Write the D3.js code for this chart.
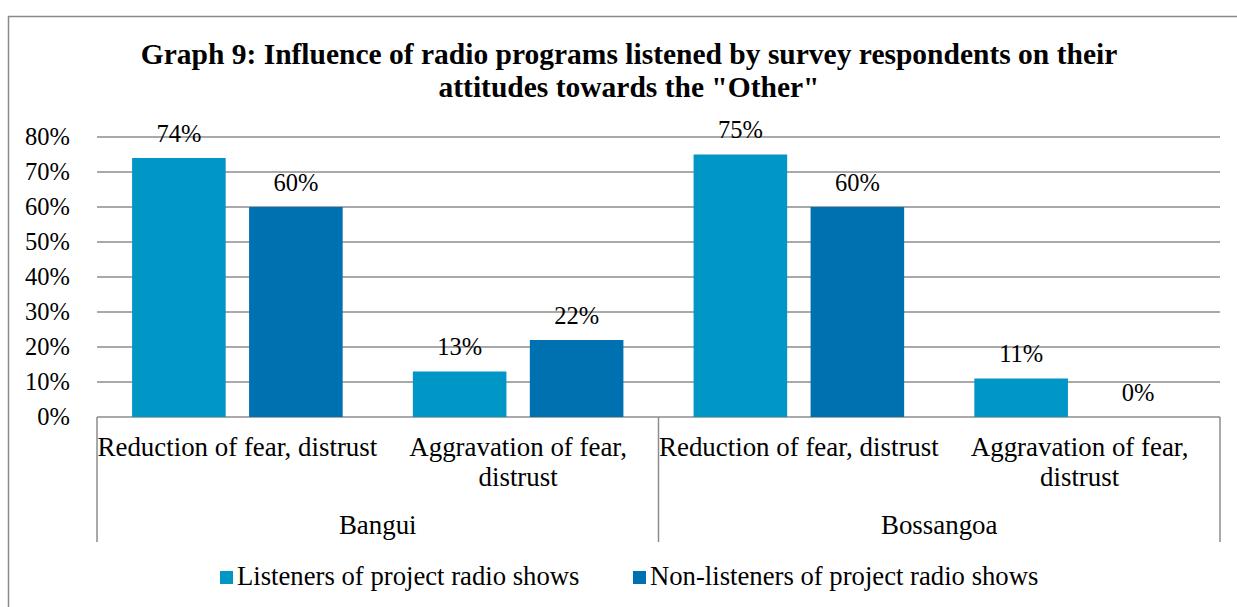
<!DOCTYPE html>
<html><head><meta charset="utf-8">
<script src="https://cdn.jsdelivr.net/npm/d3@7"></script>
</head>
<body style="margin:0;background:#fff;"><svg id="c" width="1237" height="607" font-family="Liberation Serif" style="font-family:'Liberation Serif'"></svg>
<script>
const title = ["Graph 9: Influence of radio programs listened by survey respondents on their", "attitudes towards the \"Other\""];
const groups = ["Bangui", "Bossangoa"];
const categories = ["Reduction of fear, distrust", "Aggravation of fear, distrust"];
const categoryLines = [["Reduction of fear, distrust"], ["Aggravation of fear,", "distrust"]];
const series = ["Listeners of project radio shows", "Non-listeners of project radio shows"];
const listeners = [74, 13, 75, 11];
const nonListeners = [60, 22, 60, 0];
const yTicks = [0, 10, 20, 30, 40, 50, 60, 70, 80];
const colors = ["#0096C6", "#0071B0"];

const FONT = "Liberation Serif";
const svg = d3.select("#c");
const W = 1237, H = 607;
const pLeft = 97, pRight = 1220, pTop = 137, pBottom = 417;

function txt(sel, size, weight) {
  return sel.attr("font-family", FONT).style("font-family", "'" + FONT + "'")
    .attr("font-size", size).style("font-size", size + "px")
    .attr("font-weight", weight || "normal").attr("fill", "#000");
}

// outer border
svg.append("path").attr("d", `M8.5,${H} V16.5 H${W}`).attr("fill", "none").attr("stroke", "#8a8a8a").attr("stroke-width", 1.5);

// title
txt(svg.append("text"), 29.5, "bold").attr("x", 629).attr("y", 64).attr("text-anchor", "middle")
  .selectAll("tspan").data(title).join("tspan")
  .attr("x", 629).attr("dy", (d, i) => i ? 33 : 0).text(d => d);

const keys = [];
groups.forEach(g => categories.forEach(c => keys.push(g + "|" + c)));
const x0 = d3.scaleBand().domain(keys).range([pLeft, pRight]).padding(0);
const x1 = d3.scaleBand().domain(series).range([0, x0.bandwidth()]).paddingInner(0.2).paddingOuter(0.3);
const y = d3.scaleLinear().domain([0, 80]).range([pBottom, pTop]);

// gridlines
svg.append("g").selectAll("line").data(yTicks).join("line")
  .attr("x1", pLeft).attr("x2", pRight)
  .attr("y1", d => y(d)).attr("y2", d => y(d))
  .attr("stroke", "#8c8c8c").attr("stroke-width", 1.5);

// y axis labels
const yAxis = d3.axisLeft(y).tickValues(yTicks).tickFormat(d => d + "%").tickSize(0).tickPadding(27);
const ga = svg.append("g").attr("transform", `translate(${pLeft},0)`).call(yAxis);
ga.attr("font-family", FONT).attr("font-size", 24.5);
ga.select(".domain").remove();
txt(ga.selectAll("text"), 24.5);

// bars
const data = keys.map((k, i) => ({k, vals: [listeners[i], nonListeners[i]]}));
const gBars = svg.append("g");
data.forEach(d => {
  d.vals.forEach((v, si) => {
    const xx = x0(d.k) + x1(series[si]);
    gBars.append("rect").attr("x", xx).attr("width", x1.bandwidth())
      .attr("y", y(v)).attr("height", y(0) - y(v)).attr("fill", colors[si]);
    txt(gBars.append("text"), 24.5).attr("x", xx + x1.bandwidth() / 2).attr("y", y(v) - 16.5)
      .attr("text-anchor", "middle").text(v + "%");
  });
});

// category axis separators
const sepX = [x0(keys[0]), x0(keys[2]), pRight];
svg.append("g").selectAll("line").data(sepX).join("line")
  .attr("x1", d => d).attr("x2", d => d).attr("y1", pBottom).attr("y2", 542)
  .attr("stroke", "#8c8c8c").attr("stroke-width", 1.5);

// category labels
keys.forEach((k, i) => {
  const lines = categoryLines[i % 2];
  const cx = x0(k) + x0.bandwidth() / 2;
  txt(svg.append("text"), 26.9).attr("text-anchor", "middle")
    .selectAll("tspan").data(lines).join("tspan")
    .attr("x", cx).attr("y", (d, j) => 456 + j * 30).text(d => d);
});
groups.forEach((g, i) => {
  const cx = (x0(keys[i * 2]) + x0(keys[i * 2 + 1]) + x0.bandwidth()) / 2;
  txt(svg.append("text"), 26.9).attr("x", cx).attr("y", 534).attr("text-anchor", "middle").text(g);
});

// legend
const legX = [220, 633];
series.forEach((s, i) => {
  svg.append("rect").attr("x", legX[i]).attr("y", 571).attr("width", 13).attr("height", 13).attr("fill", colors[i]);
  txt(svg.append("text"), 26.7).attr("x", legX[i] + 17).attr("y", 585).text(s);
});
</script></body></html>
